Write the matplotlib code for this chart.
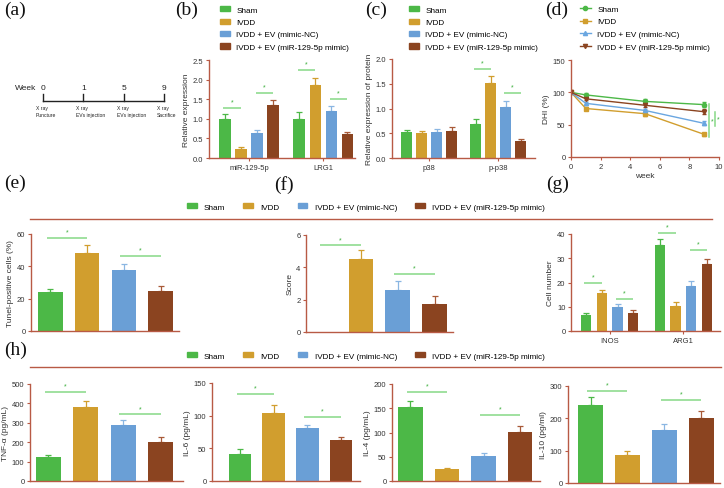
import matplotlib
matplotlib.use('Agg')
import matplotlib.pyplot as plt
import matplotlib.patches as mpatches
from matplotlib.lines import Line2D
import numpy as np

plt.rcParams['font.family'] = ['Liberation Sans', 'DejaVu Sans']

W, H = 724, 489

groups = ['Sham', 'IVDD', 'IVDD + EV (mimic-NC)', 'IVDD + EV (miR-129-5p mimic)']
colors = ['#4cb847', '#d19e2e', '#6a9fd6', '#8b4420']
err_colors = ['#4cb847', '#d19e2e', '#8ab6e2', '#a85a38']
spine_c = '#b85a45'
sig_c = '#86d886'
star_c = '#3aae3a'
text_c = '#333333'

# (a) timeline
weeks = [0, 1, 5, 9]
events = ['X ray\nPuncture', 'X ray\nEVs injection', 'X ray\nEVs injection', 'X ray\nSacrifice']

# (b) RT-qPCR
b_cats = ['miR-129-5p', 'LRG1']
b_mean = [[1.0, 0.23, 0.63, 1.35], [1.0, 1.85, 1.21, 0.62]]
b_err = [[0.13, 0.04, 0.09, 0.13], [0.18, 0.20, 0.12, 0.05]]
b_sig = [[1.27, 1.67], [2.25, 1.50]]

# (c) western blot
c_cats = ['p38', 'p-p38']
c_mean = [[0.52, 0.50, 0.53, 0.54], [0.68, 1.52, 1.04, 0.34]]
c_err = [[0.05, 0.05, 0.06, 0.09], [0.10, 0.13, 0.12, 0.05]]
c_sig = [[None, None], [1.80, 1.31]]

# (d) DHI over time
d_weeks = [0, 1, 5, 9]
d_mean = [[100, 96, 86, 81], [100, 75, 67, 35], [100, 83, 72, 52], [100, 90, 80, 70]]
d_err = [[0, 3, 3, 4], [0, 3, 4, 2], [0, 2, 3, 3], [0, 2, 3, 4]]
d_markers = ['o', 's', '^', 'v']
d_sig = [(9.3, 31, 82), (9.75, 48, 70)]

# (e) Tunel
e_mean = [24, 48, 38, 25]
e_err = [2, 5.5, 3.5, 2.8]
e_sig = [57.5, 46.4]

# (f) score
f_mean = [0, 4.5, 2.6, 1.75]
f_err = [0, 0.55, 0.55, 0.45]
f_sig = [5.36, 3.6]

# (g) macrophage counts
g_cats = ['INOS', 'ARG1']
g_mean = [[6.5, 15.5, 10.0, 7.5], [35.5, 10.2, 18.5, 27.5]]
g_err = [[1.0, 1.5, 1.2, 1.0], [2.3, 1.8, 2.2, 2.3]]
g_sig = [[20.0, 13.1], [40.3, 33.4]]

# (h) cytokines
h_labels = ['TNF-α (pg/mL)', 'IL-6 (pg/mL)', 'IL-4 (pg/mL)', 'IL-10 (pg/ml)']
h_mean = [[122, 383, 290, 200], [42, 104, 81, 62], [152, 24, 51, 101], [240, 88, 163, 200]]
h_err = [[12, 30, 22, 25], [7, 12, 5, 6], [13, 3, 6, 13], [27, 10, 20, 23]]
h_sig = [[460, 343], [133.5, 98.6], [183, 136], [284.6, 256]]
h_ylim = [500, 150, 200, 300]
h_step = [100, 50, 50, 100]

fig = plt.figure(figsize=(W / 100, H / 100), dpi=100)


def px_axes(l, t, r, b):
    return fig.add_axes([l / W, 1 - b / H, (r - l) / W, (b - t) / H])


def style(ax, ymax, step, ylabel, fmt=None):
    for s in ['top', 'right']:
        ax.spines[s].set_visible(False)
    for s in ['left', 'bottom']:
        ax.spines[s].set_color(spine_c)
        ax.spines[s].set_linewidth(1.0)
    ax.set_ylim(0, ymax)
    ticks = np.arange(0, ymax + step / 2, step)
    ax.set_yticks(ticks)
    if fmt:
        ax.set_yticklabels([fmt.format(t) for t in ticks])
    ax.tick_params(colors=spine_c, labelcolor=text_c, labelsize=5.5, length=2.5, width=0.8, pad=1.5)
    ax.set_ylabel(ylabel, fontsize=6, color=text_c, labelpad=2)


def sig_line(ax, x1, x2, h, ymax):
    ax.plot([x1 - 0.1, x2], [h, h], color=sig_c, lw=1.1, solid_capstyle='butt', clip_on=False)
    ax.text((x1 + x2) / 2 - 0.05, h + ymax * 0.025, '*', color=star_c, fontsize=5,
            ha='center', va='bottom')


def bars(ax, xs, means, errs, width):
    for i, (x, m, e) in enumerate(zip(xs, means, errs)):
        ax.bar(x, m, width=width, color=colors[i], zorder=2)
        if m > 0:
            ax.errorbar(x, m, yerr=[[0], [e]], color=err_colors[i], capsize=2.2,
                        elinewidth=0.9, capthick=0.9, zorder=1)


def grouped(ax, cats, means, errs, sigs, gap, width, xlim, ymax):
    for g, cat in enumerate(cats):
        xs = [g * gap + i for i in range(4)]
        bars(ax, xs, means[g], errs[g], width)
        if sigs[g][0] is not None:
            sig_line(ax, xs[0], xs[1], sigs[g][0], ymax)
            sig_line(ax, xs[2], xs[3], sigs[g][1], ymax)
    ax.set_xticks([g * gap + 1.5 for g in range(len(cats))])
    ax.set_xticklabels(cats, fontsize=5.5)
    ax.set_xlim(*xlim)


def single(ax, means, errs, sigs, width, xlim, ymax):
    xs = list(range(4))
    bars(ax, xs, means, errs, width)
    sig_line(ax, 0, 1, sigs[0], ymax)
    sig_line(ax, 2, 3, sigs[1], ymax)
    ax.set_xticks([])
    ax.set_xlim(*xlim)


def panel_label(x, y, s):
    fig.text(x / W, 1 - y / H, s, family=['Liberation Serif', 'DejaVu Serif'],
             fontsize=14, va='top', ha='left', color='#111111')


bar_handles = [mpatches.Patch(color=c, label=g) for c, g in zip(colors, groups)]
leg_kw = dict(frameon=False, fontsize=5.9, handlelength=1.2, handleheight=0.6,
              handletextpad=0.8, labelspacing=0.6, borderpad=0.0)

# ---- (a) timeline
ax_a = fig.add_axes([0, 0, 1, 1])
ax_a.set_xlim(0, W)
ax_a.set_ylim(H, 0)
ax_a.axis('off')
tl_x = [43 + i * 40.3 for i in range(len(weeks))]
ax_a.plot([tl_x[0], tl_x[-1]], [102, 102], color='#222222', lw=1)
for x, w, ev in zip(tl_x, weeks, events):
    ax_a.plot([x, x], [102, 95], color='#222222', lw=1)
    ax_a.text(x, 88, str(w), fontsize=6, ha='center', va='center', color='#222222')
    ax_a.text(x - 7, 106, ev, fontsize=3.6, ha='left', va='top', color='#222222', linespacing=1.4)
ax_a.text(15, 88, 'Week', fontsize=6, ha='left', va='center', color='#222222')
panel_label(4, 2, '(a)')

# ---- (b)
ax_b = px_axes(209, 61, 355, 159)
style(ax_b, 2.5, 0.5, 'Relative expression', '{:.1f}')
grouped(ax_b, b_cats, b_mean, b_err, b_sig, 4.625, 0.72, (-1.0, 8.1), 2.5)
panel_label(175, 2, '(b)')
fig.legend(handles=bar_handles, loc='upper left', bbox_to_anchor=(216 / W, 1 - 3 / H), **leg_kw)

# ---- (c)
ax_c = px_axes(392, 60, 535, 159)
style(ax_c, 2.0, 0.5, 'Relative expression of protein', '{:.1f}')
grouped(ax_c, c_cats, c_mean, c_err, c_sig, 4.6, 0.72, (-0.97, 8.55), 2.0)
panel_label(365, 2, '(c)')
fig.legend(handles=bar_handles, loc='upper left', bbox_to_anchor=(405 / W, 1 - 3 / H), **leg_kw)

# ---- (d)
ax_d = px_axes(571, 61, 719, 158)
style(ax_d, 150, 50, 'DHI (%)')
line_handles = []
for i in range(4):
    c = colors[i] if i != 2 else '#6aa6e0'
    ax_d.errorbar(d_weeks, d_mean[i], yerr=d_err[i], color=c,
                  marker=d_markers[i], markersize=3, lw=1, capsize=1.5, elinewidth=0.8)
    line_handles.append(Line2D([0], [0], color=c, marker=d_markers[i],
                               markersize=3, lw=1, label=groups[i]))
for x, y0, y1 in d_sig:
    ax_d.plot([x, x], [y0, y1], color=sig_c, lw=1.1, clip_on=False)
    ax_d.text(x + 0.22, (y0 + y1) / 2, '*', color=star_c, fontsize=5, ha='center', va='center')
ax_d.set_xlim(0, 10)
ax_d.set_xticks(range(0, 11, 2))
ax_d.set_xlabel('week', fontsize=6, color=text_c, labelpad=2)
panel_label(545, 2, '(d)')
fig.legend(handles=line_handles, loc='upper left', bbox_to_anchor=(576 / W, 1 - 2 / H),
           frameon=False, fontsize=5.9, handlelength=1.3,
           handletextpad=0.8, labelspacing=0.6, borderpad=0.0)

# ---- middle row legend + separator
mid_kw = dict(frameon=False, fontsize=5.9, handlelength=1.2, handleheight=0.6,
              handletextpad=0.9, columnspacing=2.2, ncol=4, loc='center')
fig.legend(handles=bar_handles, bbox_to_anchor=(366 / W, 1 - 208 / H), **mid_kw)
fig.add_artist(Line2D([30 / W, 712 / W], [1 - 220 / H] * 2, color=spine_c, lw=1))

# ---- (e)
ax_e = px_axes(31, 235, 179, 332)
style(ax_e, 60, 20, 'Tunel-positive cells (%)')
single(ax_e, e_mean, e_err, e_sig, 0.67, (-0.53, 3.5), 60)
panel_label(4, 175, '(e)')

# ---- (f)
ax_f = px_axes(306, 236, 453, 333)
style(ax_f, 6, 2, 'Score')
single(ax_f, f_mean, f_err, f_sig, 0.67, (-0.49, 3.5), 6)
panel_label(274, 176, '(f)')

# ---- (g)
ax_g = px_axes(571, 235, 720, 332)
style(ax_g, 40, 10, 'Cell number')
grouped(ax_g, g_cats, g_mean, g_err, g_sig, 4.68, 0.64, (-0.95, 8.5), 40)
panel_label(546, 176, '(g)')

# ---- (h)
fig.legend(handles=bar_handles, bbox_to_anchor=(366 / W, 1 - 357 / H), **mid_kw)
fig.add_artist(Line2D([30 / W, 721 / W], [1 - 368 / H] * 2, color=spine_c, lw=1))
panel_label(4, 342, '(h)')

h_boxes = [(30, 385, 183, 482), (212, 384, 360, 482), (392, 385, 540, 482), (568, 387, 720, 484)]
h_xlim = [(-0.49, 3.6), (-0.83, 3.56), (-0.5, 3.54), (-0.61, 3.51)]
for k in range(4):
    ax_h = px_axes(*h_boxes[k])
    style(ax_h, h_ylim[k], h_step[k], h_labels[k])
    single(ax_h, h_mean[k], h_err[k], h_sig[k], 0.67, h_xlim[k], h_ylim[k])

fig.savefig('out.png', dpi=100)
